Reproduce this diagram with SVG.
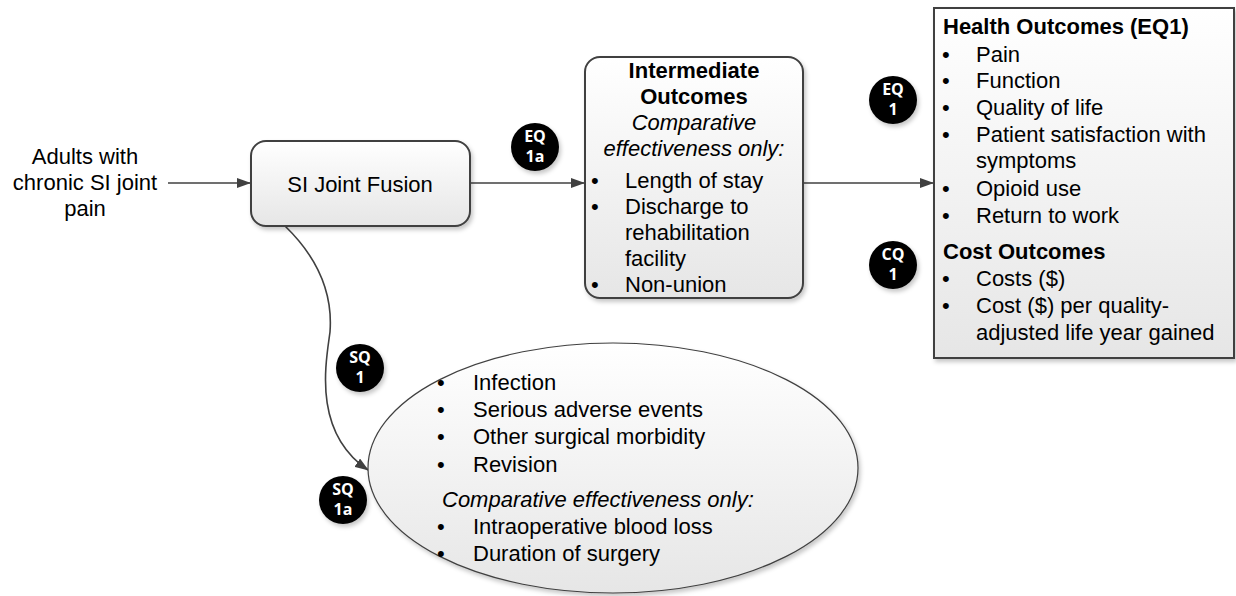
<svg xmlns="http://www.w3.org/2000/svg" width="1236" height="596" viewBox="0 0 1236 596">
<defs>
<linearGradient id="g" x1="0" y1="0" x2="0" y2="1">
<stop offset="0" stop-color="#ffffff"/>
<stop offset="1" stop-color="#e6e6e6"/>
</linearGradient>
<filter id="sh" x="-10%" y="-10%" width="130%" height="130%">
<feDropShadow dx="2" dy="3" stdDeviation="2" flood-color="#000" flood-opacity="0.22"/>
</filter>
<marker id="ah" markerWidth="14" markerHeight="10" refX="13" refY="5" orient="auto" markerUnits="userSpaceOnUse">
<path d="M0,0 L14,5 L0,10 Z" fill="#404040"/>
</marker>
</defs>
<style>
.t{font-family:"Liberation Sans",Arial,sans-serif;font-size:22px;fill:#000}
.b{font-weight:bold}
.i{font-style:italic}
.box{fill:url(#g);stroke:#404040;stroke-width:2;filter:url(#sh)}
.ell{fill:url(#g);stroke:#404040;stroke-width:1.2;filter:url(#sh)}
.c{fill:none;stroke:#404040;stroke-width:1.6}
.bd{fill:#000;filter:url(#sh)}
.bt{font-family:"Open Sans","DejaVu Sans",sans-serif;font-weight:bold;font-size:16px;fill:#fff;text-anchor:middle}
</style>

<g id="connectors">
<line class="c" x1="168" y1="183" x2="250" y2="183" marker-end="url(#ah)"/>
<line class="c" x1="470" y1="183" x2="584" y2="183" marker-end="url(#ah)"/>
<line class="c" x1="803" y1="183" x2="933" y2="183" marker-end="url(#ah)"/>
<path class="c" d="M285,226 C316,256 333,292 330,332 C326,362 312,432 368,470" marker-end="url(#ah)"/>
</g>

<g id="population">
<text class="t" text-anchor="middle"><tspan x="85" y="164">Adults with</tspan><tspan x="85" y="190">chronic SI joint</tspan><tspan x="85" y="216">pain</tspan></text>
</g>

<g id="intervention">
<rect class="box" x="251" y="141" width="219" height="85" rx="15"/>
<text class="t" x="360" y="192" text-anchor="middle">SI Joint Fusion</text>
</g>

<g id="intermediate">
<rect class="box" x="585" y="57" width="218" height="241" rx="15"/>
<text class="t b" x="694" y="78" text-anchor="middle">Intermediate</text>
<text class="t b" x="694" y="104" text-anchor="middle">Outcomes</text>
<text class="t i" x="694" y="130" text-anchor="middle">Comparative</text>
<text class="t i" x="694" y="156" text-anchor="middle">effectiveness only:</text>
<text class="t"><tspan x="591" y="188">•</tspan><tspan x="625" y="188">Length of stay</tspan></text>
<text class="t"><tspan x="591" y="214">•</tspan><tspan x="625" y="214">Discharge to</tspan></text>
<text class="t"><tspan x="625" y="240">rehabilitation</tspan></text>
<text class="t"><tspan x="625" y="266">facility</tspan></text>
<text class="t"><tspan x="591" y="292">•</tspan><tspan x="625" y="292">Non-union</tspan></text>
</g>

<g id="final-outcomes">
<rect class="box" x="934" y="8" width="300" height="350"/>
<text class="t b" x="943" y="34">Health Outcomes (EQ1)</text>
<text class="t"><tspan x="942" y="62">•</tspan><tspan x="976" y="62">Pain</tspan></text>
<text class="t"><tspan x="942" y="88">•</tspan><tspan x="976" y="88">Function</tspan></text>
<text class="t"><tspan x="942" y="115">•</tspan><tspan x="976" y="115">Quality of life</tspan></text>
<text class="t"><tspan x="942" y="142">•</tspan><tspan x="976" y="142">Patient satisfaction with</tspan></text>
<text class="t"><tspan x="976" y="168">symptoms</tspan></text>
<text class="t"><tspan x="942" y="196">•</tspan><tspan x="976" y="196">Opioid use</tspan></text>
<text class="t"><tspan x="942" y="223">•</tspan><tspan x="976" y="223">Return to work</tspan></text>
<text class="t b" x="943" y="259">Cost Outcomes</text>
<text class="t"><tspan x="942" y="286">•</tspan><tspan x="976" y="286">Costs ($)</tspan></text>
<text class="t"><tspan x="942" y="313">•</tspan><tspan x="976" y="313">Cost ($) per quality-</tspan></text>
<text class="t"><tspan x="976" y="340">adjusted life year gained</tspan></text>
</g>

<g id="harms">
<ellipse class="ell" cx="613" cy="468" rx="245" ry="125"/>
<text class="t"><tspan x="437" y="390">•</tspan><tspan x="473" y="390">Infection</tspan></text>
<text class="t"><tspan x="437" y="417">•</tspan><tspan x="473" y="417">Serious adverse events</tspan></text>
<text class="t"><tspan x="437" y="444">•</tspan><tspan x="473" y="444">Other surgical morbidity</tspan></text>
<text class="t"><tspan x="437" y="472">•</tspan><tspan x="473" y="472">Revision</tspan></text>
<text class="t i" x="442" y="507">Comparative effectiveness only:</text>
<text class="t"><tspan x="437" y="534">•</tspan><tspan x="473" y="534">Intraoperative blood loss</tspan></text>
<text class="t"><tspan x="437" y="561">•</tspan><tspan x="473" y="561">Duration of surgery</tspan></text>
</g>

<g id="badge-eq1a">
<circle class="bd" cx="535" cy="147" r="24"/>
<text class="bt"><tspan x="535" y="142">EQ</tspan><tspan x="535" y="162">1a</tspan></text>
</g>
<g id="badge-eq1">
<circle class="bd" cx="893" cy="100" r="24"/>
<text class="bt"><tspan x="893" y="95">EQ</tspan><tspan x="893" y="115">1</tspan></text>
</g>
<g id="badge-cq1">
<circle class="bd" cx="893" cy="265" r="24"/>
<text class="bt"><tspan x="893" y="260">CQ</tspan><tspan x="893" y="280">1</tspan></text>
</g>
<g id="badge-sq1">
<circle class="bd" cx="360" cy="368" r="24"/>
<text class="bt"><tspan x="360" y="363">SQ</tspan><tspan x="360" y="383">1</tspan></text>
</g>
<g id="badge-sq1a">
<circle class="bd" cx="343" cy="500" r="24"/>
<text class="bt"><tspan x="343" y="495">SQ</tspan><tspan x="343" y="515">1a</tspan></text>
</g>
</svg>
